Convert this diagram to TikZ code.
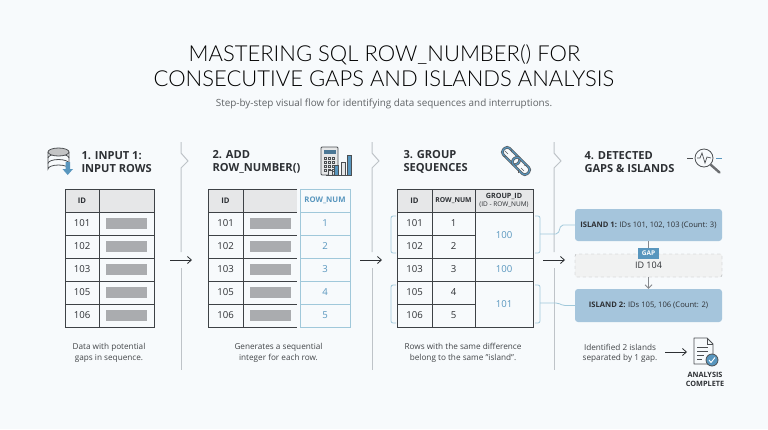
\documentclass[tikz,border=0pt]{standalone}
\usepackage{fontspec}
\setmainfont{Open Sans}
\newfontfamily\titlefont{Lato Light}
\usetikzlibrary{arrows,arrows.meta}
\usetikzlibrary{calc}
\definecolor{hintergrund}{RGB}{247, 250, 252}
\definecolor{tinte}{RGB}{45, 48, 52}
\definecolor{rahmen}{RGB}{62, 66, 70}
\definecolor{kopf}{RGB}{230, 231, 232}
\definecolor{balken}{RGB}{170, 172, 175}
\definecolor{trenner}{RGB}{190, 195, 200}
\definecolor{petrol}{RGB}{88, 150, 190}
\definecolor{petrol-soft}{RGB}{160, 200, 218}
\definecolor{insel}{RGB}{165, 197, 220}
\definecolor{luecke}{RGB}{241, 242, 242}
\tikzset{
    headline/.style={anchor=west, align=left, text=tinte, font=\fontsize{11.1}{13}\selectfont\bfseries},
    caption/.style={align=center, text=tinte!90, font=\fontsize{8.2}{10.5}\selectfont},
    cell/.style={text=tinte, font=\fontsize{9.6}{10}\selectfont},
    headcell/.style={text=tinte, font=\fontsize{7.7}{8}\selectfont\bfseries},
    bluecell/.style={text=petrol, font=\fontsize{9.6}{10}\selectfont},
    divider/.style={trenner, line width=1pt},
    flow/.style={tinte, line width=0.8pt, -{Straight Barb[length=4pt,width=7pt]}},
    bracket/.style={petrol-soft, line width=0.8pt, rounded corners=2pt},
    grid/.style={rahmen, line width=1pt},
    islandbox/.style={fill=insel, rounded corners=3pt, minimum width=147pt, minimum height=32pt, inner sep=0pt, text=tinte, font=\fontsize{7.6}{9}\selectfont},
}
\begin{document}
\begin{tikzpicture}[x=1pt,y=-1pt]

    \fill[hintergrund] (0,0) rectangle (768,429);
    \useasboundingbox (0,0) rectangle (768,429);

    % title
    \node[text=black, font=\fontsize{22}{24}\titlefont] (titleone) at (384.5,55) {MASTERING SQL ROW\_NUMBER() FOR};
    \node[text=black, font=\fontsize{22}{24}\titlefont] (titletwo) at (384,79) {CONSECUTIVE GAPS AND ISLANDS ANALYSIS};
    \node[text=tinte!75, font=\fontsize{9.9}{11}\selectfont] (subtitle) at (384,104) {Step-by-step visual flow for identifying data sequences and interruptions.};

    % dividers
    \foreach \x in {181,372,554} {
        \draw[divider] (\x,142) -- (\x,153) -- (\x+7,161) -- (\x,168) -- (\x,252);
        \draw[divider] (\x,268) -- (\x,370);
    }

    % flow between the steps
    \foreach \x/\n in {170/a,360/b,543/c} {
        \coordinate (flow\n start) at (\x,260);
        \coordinate (flow\n end) at (\x+22,260);
        \draw[flow] (flow\n start) -- (flow\n end);
    }

    % step 1
    \node[headline] (headone) at (78,162) {1. INPUT 1:\\INPUT ROWS};
    \fill[kopf] (65,189) rectangle (154,212);
    \draw[grid] (65,189) rectangle (154,327);
    \draw[grid] (99,189) -- (99,327);
    \foreach \y in {212,235,258,281,304} \draw[grid] (65,\y) -- (154,\y);
    \node[headcell] (oneid) at (82,200.5) {ID};
    \foreach \y/\i in {223.5/101,246.5/102,269.5/103,292.5/105,315.5/106} {
        \node[cell] (one\i) at (82,\y) {\i};
        \fill[balken] (106,\y-5.5) rectangle (147,\y+5.5);
    }
    \node[caption] (captionone) at (109,353) {Data with potential\\gaps in sequence.};

    % step 2
    \node[headline] (headtwo) at (209,162) {2. ADD\\ROW\_NUMBER()};
    \fill[kopf] (208,189) rectangle (297,212);
    \draw[grid] (297,189) -- (208,189) -- (208,327) -- (297,327);
    \draw[grid] (243,189) -- (243,327);
    \foreach \y in {212,235,258,281,304} \draw[grid] (208,\y) -- (297,\y);
    \node[headcell] (twoid) at (225.5,200.5) {ID};
    \draw[petrol-soft, line width=0.8pt] (300,189) rectangle (350,327);
    \foreach \y in {212,235,258,281,304} \draw[petrol-soft, line width=0.8pt] (300,\y) -- (350,\y);
    \node[headcell, text=petrol] (twonum) at (325,200.5) {ROW\_NUM};
    \foreach \y/\i/\n in {223.5/101/1,246.5/102/2,269.5/103/3,292.5/105/4,315.5/106/5} {
        \node[cell] (two\i) at (225.5,\y) {\i};
        \fill[balken] (250,\y-5.5) rectangle (291,\y+5.5);
        \node[bluecell] (twonum\n) at (325,\y) {\n};
    }
    \node[caption] (captiontwo) at (278.5,353) {Generates a sequential\\integer for each row.};

    % step 3
    \node[headline] (headthree) at (400,162) {3. GROUP\\SEQUENCES};
    \fill[kopf] (397,189) rectangle (533,212);
    \draw[grid] (397,189) rectangle (533,327);
    \draw[grid] (432,189) -- (432,327);
    \draw[grid] (475,189) -- (475,327);
    \foreach \y in {212,258,281} \draw[grid] (397,\y) -- (533,\y);
    \foreach \y in {235,304} \draw[grid] (397,\y) -- (475,\y);
    \node[headcell] (threeid) at (414.5,200.5) {ID};
    \node[headcell, font=\fontsize{6.8}{8}\selectfont\bfseries] (threenum) at (453.5,200.5) {ROW\_NUM};
    \node[headcell, align=center, font=\fontsize{7.2}{7}\selectfont\bfseries] (threegroup) at (504,200.5) {GROUP\_ID\\[0.5pt]{\fontsize{6.5}{7}\selectfont\mdseries (ID - ROW\_NUM)}};
    \foreach \y/\i/\n in {223.5/101/1,246.5/102/2,269.5/103/3,292.5/105/4,315.5/106/5} {
        \node[cell] (three\i) at (414.5,\y) {\i};
        \node[cell] (threenum\n) at (453.5,\y) {\n};
    }
    \node[bluecell] (groupa) at (504,235) {100};
    \node[bluecell] (groupb) at (504,269.5) {100};
    \node[bluecell] (groupc) at (504,304) {101};
    \node[caption] (captionthree) at (463,353) {Rows with the same difference\\belong to the same "island".};

    % brackets
    \draw[bracket] (396,216) -- (391,216) -- (391,253) -- (396,253);
    \draw[bracket] (396,285) -- (391,285) -- (391,323) -- (396,323);
    \draw[bracket] (535,216) -- (540,216) -- (540,253) -- (535,253);
    \draw[bracket] (535,285) -- (540,285) -- (540,323) -- (535,323);

    % step 4
    \node[headline] (headfour) at (581,162) {4. DETECTED\\GAPS \& ISLANDS};
    \node[islandbox] (islandone) at (648.5,225) {\textbf{ISLAND 1:} IDs 101, 102, 103 (Count: 3)};
    \node[islandbox, minimum height=33pt] (islandtwo) at (648.5,305.5) {\textbf{ISLAND 2:} IDs 105, 106 (Count: 2)};
    \node[draw=balken, dashed, fill=luecke, rounded corners=2pt, minimum width=147pt, minimum height=23pt, inner sep=0pt, text=tinte, font=\fontsize{9}{10}\selectfont] (gapbox) at (648.5,265.5) {\raisebox{-4.5pt}{ID 104}};
    \node[fill=petrol, text=white, inner sep=0pt, minimum width=21pt, minimum height=11pt, font=\fontsize{6.5}{7}\selectfont\bfseries] (gaptag) at (648.5,253.5) {GAP};
    \draw[trenner!70!black, line width=0.8pt] (islandone) -- (gaptag);
    \draw[trenner!70!black, line width=0.8pt, -{Straight Barb[length=3.5pt,width=7pt]}] (gapbox) -- (islandtwo);

    \coordinate (bracketa) at (540,234);
    \coordinate (bracketb) at (540,303);
    \draw[bracket] (bracketa) -- (558,234) -- (561,225) -- (islandone.west);
    \draw[bracket] (bracketb) -- (558,303) -- (563,305.5) -- (islandtwo.west);

    \node[caption, align=center] (captionfour) at (620,353.5) {Identified 2 islands\\separated by 1 gap.};
    \coordinate (docstart) at (665,352);
    \coordinate (docarrow) at (687,352);
    \draw[flow] (docstart) -- (docarrow);
    \node[align=center, text=tinte, font=\fontsize{7.3}{9.6}\selectfont\bfseries] (doneinfo) at (705,379.5) {ANALYSIS\\COMPLETE};

    % icon database
    \begin{scope}[tinte!85, line width=0.8pt]
        \draw[fill=hintergrund] (48,152) -- (48,169) arc(180:360:10.5 and 4) -- (69,152);
        \draw (48,158) arc(180:360:10.5 and 4);
        \draw (48,163.5) arc(180:360:10.5 and 4);
        \draw[fill=kopf!85!black] (58.5,152) ellipse (10.5 and 4);
    \end{scope}
    \fill[petrol] (65.5,162) -- (70,162) -- (70,169) -- (73,169) -- (67.7,175) -- (62.5,169) -- (65.5,169) -- cycle;

    % icon calculator
    \draw[tinte!85, fill=kopf, line width=0.8pt, rounded corners=1pt] (321,147) rectangle (338,175);
    \fill[petrol!70!tinte] (323.5,150) rectangle (335.5,154);
    \foreach \x in {324,328,332} \foreach \y in {157,161,165,169}
        \draw[tinte!85, line width=0.5pt] (\x,\y) rectangle (\x+2.5,\y+2);
    \foreach \x/\y/\c in {328/170/kopf,334/165/petrol,341/162/kopf,347/155/petrol}
        \draw[tinte!85, fill=\c, line width=0.7pt] (\x,\y) rectangle (\x+4.5,175);
    \draw[tinte!85, line width=0.8pt] (326,175) -- (352,175);

    % icon chain
    \begin{scope}[rotate around={-45:(516,161)}]
        \draw[tinte!80, line width=2.6pt, rounded corners=3.5pt] (499,156.5) rectangle (519,165.5);
        \draw[petrol, line width=1.2pt, rounded corners=3.5pt] (499,156.5) rectangle (519,165.5);
        \draw[tinte!80, line width=2.6pt, rounded corners=3.5pt] (513,156.5) rectangle (533,165.5);
        \draw[petrol, line width=1.2pt, rounded corners=3.5pt] (513,156.5) rectangle (533,165.5);
    \end{scope}
    \foreach \a/\b/\c/\d in {505/151/508/154,511/149/511.5/152,503/156/506/157,524/171/521/168,518/173/518/170,527/166/524/165}
        \draw[tinte!80, line width=0.6pt] (\a,\b) -- (\c,\d);

    % icon magnifier
    \draw[tinte!85, line width=0.8pt] (704,158) circle (9);
    \draw[tinte!85, line width=0.7pt] (697,158) -- (700,158) -- (702,153) -- (705,163) -- (707,157) -- (711,158);
    \draw[tinte!70, line width=2.4pt, line cap=round] (711,165) -- (719.5,172.5);
    \draw[tinte!85, line width=0.8pt] (687,158) -- (693,158);
    \draw[petrol, line width=0.8pt] (716,158) -- (722,158);

    % icon document
    \draw[tinte!85, fill=hintergrund, line width=0.8pt, line join=round] (694,338) -- (707,338) -- (713,344) -- (713,364) -- (694,364) -- cycle;
    \draw[tinte!85, line width=0.8pt] (707,338) -- (707,344) -- (713,344);
    \foreach \y/\x in {347/708,351/708,355/704,359/702} \draw[tinte!85, line width=0.7pt] (697,\y) -- (\x,\y);
    \draw[tinte!85, fill=petrol, line width=0.8pt] (712,360) circle (6);
    \draw[white, line width=0.9pt] (709,360) -- (711,362.5) -- (715,357.5);

\end{tikzpicture}
\end{document}
